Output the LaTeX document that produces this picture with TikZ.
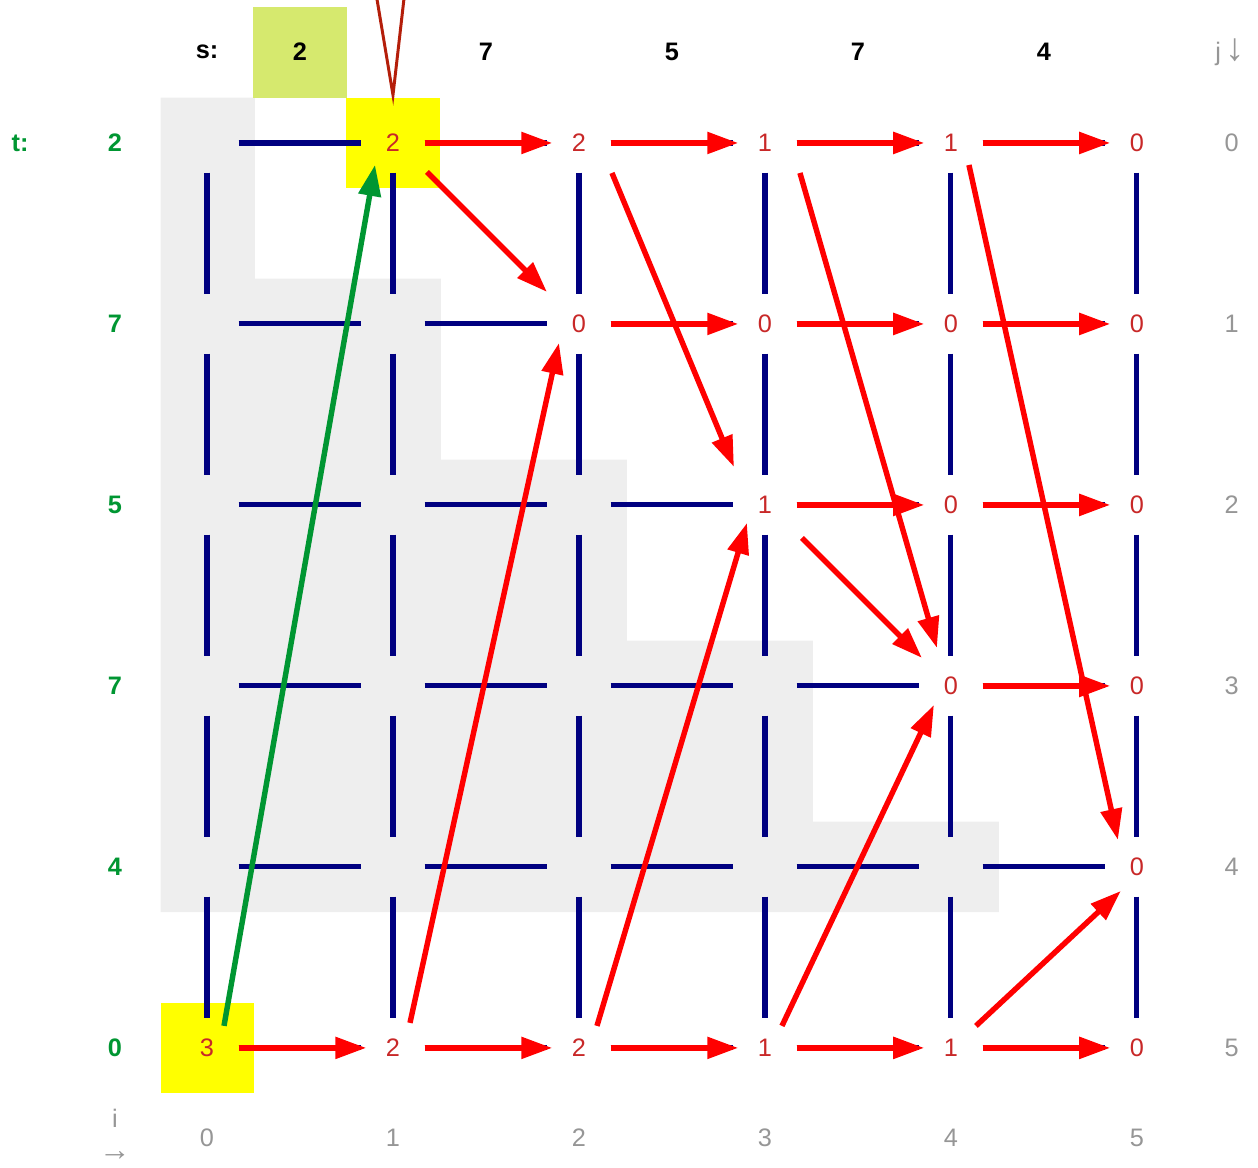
\documentclass[tikz,border=0pt]{standalone}
\usepackage{fontspec}
\setmainfont{Liberation Sans}
\usetikzlibrary{arrows.meta}

\definecolor{gridblue}{RGB}{0,0,128}
\definecolor{pathred}{RGB}{255,0,0}
\definecolor{valred}{RGB}{200,40,40}
\definecolor{tgreen}{RGB}{0,150,50}
\definecolor{idxgrey}{RGB}{150,150,150}
\definecolor{bggrey}{RGB}{238,238,238}
\definecolor{hilite}{RGB}{255,255,0}
\definecolor{sgreen}{RGB}{214,233,110}
\definecolor{ptrred}{RGB}{180,30,10}
\newcommand{\bigarrow}[1]{{\fontsize{11}{11}\selectfont #1}}

\begin{document}
\begin{tikzpicture}[x=1.86cm,y=-1.81cm,
  font=\fontsize{7.2}{9}\selectfont,
  cell/.style={rectangle,minimum width=0.62cm,minimum height=0.58cm,inner sep=0pt,text=valred},
  gridline/.style={gridblue,line width=1.45pt},
  redpath/.style={pathred,line width=1.55pt,-{Triangle[length=3.1mm,width=2.1mm]}},
  greenpath/.style={tgreen,line width=1.55pt,-{Triangle[length=3.1mm,width=2.2mm]}},
  idx/.style={text=idxgrey},
  tlab/.style={text=tgreen,font=\fontsize{7.2}{9}\selectfont\bfseries},
  slab/.style={font=\fontsize{7.2}{9}\selectfont\bfseries}]
  \useasboundingbox (-1.113,-0.790) rectangle (5.651,5.663);

  % shaded staircase and highlighted cells
  \fill[bggrey] (-0.25,-0.25) -- (0.258,-0.25) -- (0.258,0.75) -- (1.258,0.75)
    -- (1.258,1.75) -- (2.258,1.75) -- (2.258,2.75) -- (3.258,2.75)
    -- (3.258,3.75) -- (4.258,3.75) -- (4.258,4.25) -- (-0.25,4.25) -- cycle;
  \fill[hilite] (-0.25,4.75) rectangle (0.255,5.25);
  \fill[hilite] (0.75,-0.25) rectangle (1.255,0.25);
  \fill[sgreen] (0.25,-0.75) rectangle (0.755,-0.25);

  % grid nodes
  \foreach \j/\row in {0/{{},2,2,1,1,0},1/{{},{},0,0,0,0},2/{{},{},{},1,0,0},
                       3/{{},{},{},{},0,0},4/{{},{},{},{},{},0},5/{3,2,2,1,1,0}}
    \foreach \v [count=\i from 0] in \row
      \node[cell] (n\i\j) at (\i,\j) {\v};

  % grid edges
  \foreach \i in {0,...,5}
    \foreach \j [count=\k] in {0,...,4}
      \draw[gridline] (n\i\j) -- (n\i\k);
  \foreach \i [count=\k] in {0,...,4}
    \foreach \j in {0,...,5}
      \draw[gridline] (n\i\j) -- (n\k\j);

  % paths
  \foreach \a/\b in {10/20,20/30,30/40,40/50,21/31,31/41,41/51,32/42,42/52,43/53,
                     05/15,15/25,25/35,35/45,45/55}
    \draw[redpath,shorten >=-0.05cm] (n\a) -- (n\b);
  \foreach \a/\b/\p/\q in {10/21/{0.34cm,-0.29cm}/{-0.32cm,0.32cm},
                           20/32/{0.33cm,-0.30cm}/{-0.31cm,0.38cm},
                           30/43/{0.35cm,-0.30cm}/{-0.14cm,0.38cm},
                           40/54/{0.18cm,-0.22cm}/{-0.19cm,0.27cm},
                           32/43/{0.37cm,-0.33cm}/{-0.29cm,0.28cm},
                           15/21/{0.17cm,0.25cm}/{-0.20cm,-0.19cm},
                           25/32/{0.18cm,0.22cm}/{-0.18cm,-0.18cm},
                           35/43/{0.17cm,0.22cm}/{-0.17cm,-0.19cm},
                           45/54/{0.25cm,0.22cm}/{-0.16cm,-0.24cm}}
    \draw[redpath] ([shift={(\p)}]n\a.center) -- ([shift={(\q)}]n\b.center);
  \draw[greenpath] ([shift={(0.17cm,0.22cm)}]n05.center) -- ([shift={(-0.18cm,-0.22cm)}]n10.center);

  % pointer
  \coordinate (ptr) at (1,-0.265);
  \coordinate (ptrl) at (0.905,-0.85);
  \coordinate (ptrr) at (1.065,-0.85);
  \draw[ptrred,line width=0.85pt] (ptrl) -- (ptr) -- (ptrr);

  % labels
  \node[slab] (shead) at (0,-0.503) {s:};
  \foreach \s [count=\i] in {2,7,5,7,4}
    \node[slab] (s\i) at (\i-0.5,-0.503) {\s};
  \node[tlab] (thead) at (-1.005,0) {t:};
  \foreach \t [count=\j from 0] in {2,7,5,7,4,0}
    \node[tlab] (t\j) at (-0.495,\j) {\t};
  \node[idx] (jhead) at (5.5,-0.503) {j\,\bigarrow{↓}};
  \foreach \j in {0,...,5}
    \node[idx] (jl\j) at (5.51,\j) {\j};
  \node[idx,inner sep=0pt] (ihead) at (-0.495,5.39) {i};
  \node[idx,inner sep=0pt,font=\fontsize{9}{9}\selectfont] (iarrow) at (-0.495,5.6) {→};
  \foreach \i in {0,...,5}
    \node[idx] (il\i) at (\i,5.497) {\i};
\end{tikzpicture}
\end{document}
